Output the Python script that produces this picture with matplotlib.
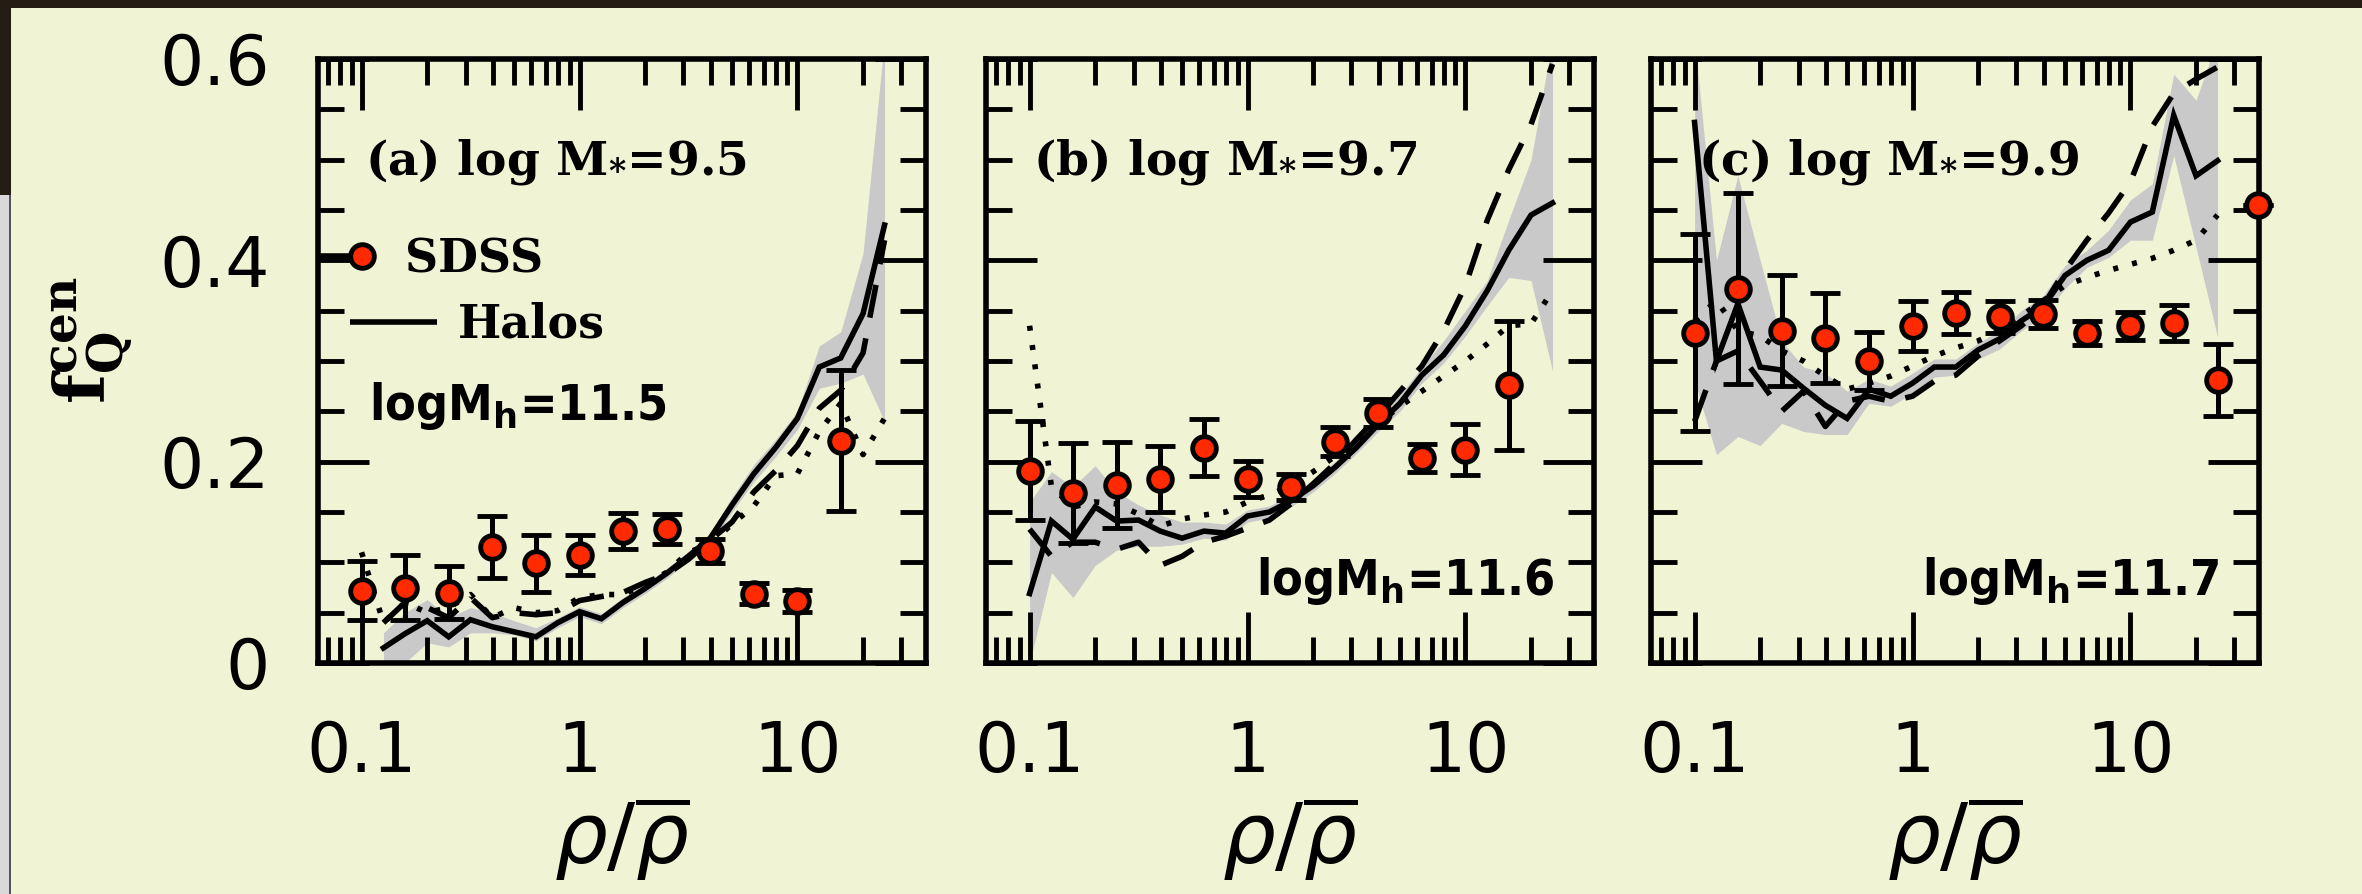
import numpy as np
import matplotlib
matplotlib.use("Agg")
import matplotlib.pyplot as plt
from matplotlib.lines import Line2D
from matplotlib.legend_handler import HandlerLine2D
from matplotlib.patches import Rectangle
from matplotlib.ticker import FixedLocator, FixedFormatter, LogLocator, NullFormatter, MultipleLocator
from matplotlib.font_manager import FontProperties

nan = np.nan

# ---------------- data ----------------
# model (halo) curves: rho/rhobar grid
model_x = [0.100, 0.126, 0.158, 0.200, 0.251, 0.316, 0.398, 0.501, 0.631, 0.794,
           1.00, 1.26, 1.58, 2.00, 2.51, 3.16, 3.98, 5.01, 6.31, 7.94,
           10.0, 12.6, 15.8, 20.0, 25.1]

# panel (a) log M* = 9.5
solid_a = [nan, 0.015, 0.029, 0.042, 0.026, 0.043, 0.036, 0.031, 0.026, 0.040,
           0.051, 0.044, 0.060, 0.074, 0.089, 0.106, 0.124, 0.157, 0.188, 0.214,
           0.243, 0.294, 0.303, 0.347, 0.435]
dashed_a = [nan, 0.040, 0.060, 0.055, 0.045, 0.065, 0.045, 0.050, 0.048, 0.050,
            0.062, 0.066, 0.070, 0.080, 0.088, 0.103, 0.122, 0.140, 0.170, 0.191,
            0.216, 0.253, 0.271, 0.308, 0.420]
dotted_a = [0.110, 0.040, 0.060, 0.050, 0.055, 0.068, 0.045, 0.055, 0.050, 0.052,
            0.065, 0.068, 0.068, 0.078, 0.090, 0.110, 0.118, 0.138, 0.156, 0.186,
            0.188, 0.230, 0.258, 0.207, 0.243]
band_a_lo = [nan, 0.000, 0.000, 0.020, 0.016, 0.030, 0.030, 0.028, 0.022, 0.035,
             0.046, 0.039, 0.055, 0.069, 0.084, 0.101, 0.119, 0.150, 0.180, 0.205,
             0.232, 0.273, 0.278, 0.287, 0.240]
band_a_hi = [nan, 0.030, 0.050, 0.063, 0.045, 0.055, 0.050, 0.042, 0.035, 0.045,
             0.056, 0.049, 0.065, 0.079, 0.094, 0.111, 0.129, 0.165, 0.197, 0.222,
             0.250, 0.315, 0.329, 0.407, 0.620]

# panel (b) log M* = 9.7
solid_b = [0.069, 0.141, 0.123, 0.155, 0.141, 0.142, 0.131, 0.124, 0.131, 0.129,
           0.146, 0.150, 0.161, 0.176, 0.194, 0.214, 0.237, 0.258, 0.286, 0.306,
           0.335, 0.370, 0.410, 0.445, 0.457]
dashed_b = [0.133, 0.106, 0.120, 0.120, 0.113, 0.120, 0.097, 0.106, 0.120, 0.126,
            0.134, 0.142, 0.158, 0.178, 0.198, 0.222, 0.245, 0.270, 0.295, 0.330,
            0.375, 0.440, 0.490, 0.535, 0.595]
dotted_b = [0.335, 0.175, 0.155, 0.160, 0.158, 0.148, 0.136, 0.143, 0.147, 0.150,
            0.160, 0.167, 0.176, 0.190, 0.205, 0.220, 0.238, 0.255, 0.270, 0.285,
            0.300, 0.317, 0.335, 0.337, 0.370]
band_b_lo = [0.000, 0.090, 0.065, 0.097, 0.112, 0.116, 0.116, 0.118, 0.124, 0.122,
             0.140, 0.144, 0.155, 0.170, 0.188, 0.208, 0.230, 0.250, 0.278, 0.298,
             0.325, 0.355, 0.383, 0.380, 0.290]
band_b_hi = [0.160, 0.190, 0.175, 0.196, 0.170, 0.157, 0.147, 0.140, 0.140, 0.138,
             0.152, 0.156, 0.167, 0.182, 0.200, 0.220, 0.244, 0.266, 0.294, 0.320,
             0.350, 0.380, 0.440, 0.500, 0.620]

# panel (c) log M* = 9.9
solid_c = [0.537, 0.300, 0.357, 0.294, 0.291, 0.273, 0.256, 0.243, 0.272, 0.265,
           0.278, 0.294, 0.294, 0.311, 0.322, 0.340, 0.354, 0.385, 0.400, 0.410,
           0.438, 0.448, 0.544, 0.484, 0.499]
dashed_c = [0.240, 0.300, 0.310, 0.280, 0.250, 0.270, 0.235, 0.260, 0.265, 0.260,
            0.265, 0.280, 0.286, 0.305, 0.320, 0.335, 0.355, 0.390, 0.420, 0.447,
            0.478, 0.533, 0.566, 0.580, 0.592]
dotted_c = [0.340, 0.360, 0.330, 0.325, 0.310, 0.300, 0.285, 0.272, 0.278, 0.285,
            0.295, 0.305, 0.313, 0.320, 0.330, 0.345, 0.360, 0.375, 0.383, 0.390,
            0.396, 0.402, 0.410, 0.420, 0.445]
band_c_lo = [0.280, 0.207, 0.225, 0.216, 0.238, 0.230, 0.227, 0.227, 0.258, 0.255,
             0.268, 0.284, 0.286, 0.302, 0.312, 0.330, 0.345, 0.372, 0.393, 0.403,
             0.420, 0.420, 0.504, 0.413, 0.324]
band_c_hi = [0.620, 0.400, 0.484, 0.400, 0.320, 0.294, 0.288, 0.270, 0.282, 0.275,
             0.288, 0.302, 0.302, 0.318, 0.330, 0.350, 0.365, 0.395, 0.410, 0.430,
             0.460, 0.476, 0.585, 0.559, 0.620]

# SDSS measurements
sdss_x = [0.100, 0.158, 0.251, 0.398, 0.631, 1.00, 1.58, 2.51, 3.98, 6.31,
          10.0, 15.8, 25.1, 38.5]
sdss_a = [0.072, 0.075, 0.070, 0.115, 0.099, 0.107, 0.131, 0.133, 0.111, 0.069,
          0.062, 0.221, nan, nan]
err_a = [0.029, 0.032, 0.026, 0.031, 0.028, 0.020, 0.018, 0.015, 0.012, 0.010,
         0.011, 0.070, nan, nan]
sdss_b = [0.191, 0.169, 0.177, 0.183, 0.214, 0.183, 0.175, 0.220, 0.248, 0.204,
          0.212, 0.276, nan, nan]
err_b = [0.049, 0.050, 0.043, 0.033, 0.028, 0.018, 0.013, 0.014, 0.014, 0.014,
         0.025, 0.064, nan, nan]
sdss_c = [0.328, 0.372, 0.330, 0.323, 0.300, 0.335, 0.348, 0.344, 0.347, 0.328,
          0.335, 0.338, 0.281, 0.455]
err_c = [0.098, 0.095, 0.055, 0.045, 0.029, 0.025, 0.021, 0.016, 0.014, 0.012,
         0.014, 0.018, 0.036, 0.0]

panel_titles = ["(a) log M$_{\\mathbf{*}}$=9.5", "(b) log M$_{\\mathbf{*}}$=9.7",
                "(c) log M$_{\\mathbf{*}}$=9.9"]
halo_labels = ["logM$_{\\mathbf{h}}$=11.5", "logM$_{\\mathbf{h}}$=11.6",
               "logM$_{\\mathbf{h}}$=11.7"]
x_ticks = [0.1, 1, 10]
x_ticklabels = ["0.1", "1", "10"]
y_ticks = [0.0, 0.2, 0.4, 0.6]
y_ticklabels = ["0", "0.2", "0.4", "0.6"]

# ---------------- style ----------------
BG = "#f1f3d5"
RED = "#ff2a00"
GREY = "#c9c9c9"
LW = 4.0
MS = 17
MEW = 3.5

fig = plt.figure(figsize=(23.62, 8.94), dpi=100)
fig.patch.set_facecolor(BG)

# frame strips around the picture
fig.add_artist(Rectangle((0, 0), 9 / 2362, 1, transform=fig.transFigure,
                         facecolor="#d9d9d9", edgecolor="none", zorder=-5))
fig.add_artist(Rectangle((9 / 2362, 0), 1.5 / 2362, 1 - 195 / 894, transform=fig.transFigure,
                         facecolor="#555555", edgecolor="none", zorder=-5))
fig.add_artist(Rectangle((0, 1 - 195 / 894), 11 / 2362, 195 / 894, transform=fig.transFigure,
                         facecolor="#231d14", edgecolor="none", zorder=-5))
fig.add_artist(Rectangle((0, 1 - 8 / 894), 1, 8 / 894, transform=fig.transFigure,
                         facecolor="#231d14", edgecolor="none", zorder=-5))

lefts = [318 / 2362, 986 / 2362, 1651 / 2362]
bottom = 1 - 663 / 894
width = 608 / 2362
height = 604 / 894

panels = [
    (solid_a, dashed_a, dotted_a, band_a_lo, band_a_hi, sdss_a, err_a),
    (solid_b, dashed_b, dotted_b, band_b_lo, band_b_hi, sdss_b, err_b),
    (solid_c, dashed_c, dotted_c, band_c_lo, band_c_hi, sdss_c, err_c),
]

legend_font = dict(family="DejaVu Serif", weight="bold", size=33)
mx = np.array(model_x)
sx = np.array(sdss_x)


class SDSSHandler(HandlerLine2D):
    def create_artists(self, legend, orig_handle, xdescent, ydescent, width, height,
                       fontsize, trans):
        y = height / 2.0 - ydescent
        x1 = width - xdescent
        line = Line2D([-xdescent, x1], [y, y], color="k", lw=LW, solid_capstyle="butt")
        dot = Line2D([x1], [y], ls="none", marker="o", ms=MS, mfc=RED, mec="k", mew=MEW)
        line.set_transform(trans)
        dot.set_transform(trans)
        return [line, dot]


for i, (sol, das, dot, lo, hi, sy, se) in enumerate(panels):
    ax = fig.add_axes([lefts[i], bottom, width, height])
    ax.set_facecolor(BG)
    ax.set_xscale("log")
    ax.set_xlim(0.0631, 38.9)
    ax.set_ylim(0, 0.6)

    ax.fill_between(mx, np.array(lo), np.array(hi), color=GREY, lw=0, zorder=1)
    ax.plot(mx, sol, color="k", lw=LW, zorder=2, solid_joinstyle="miter")
    ax.plot(mx, das, color="k", lw=LW, dashes=(6, 3.8), zorder=2)
    ax.plot(mx, dot, color="k", lw=LW, dashes=(0.9, 2.6), zorder=2)

    yv = np.array(sy)
    ev = np.array(se)
    ok = np.isfinite(yv)
    ax.errorbar(sx[ok], yv[ok], yerr=np.nan_to_num(ev[ok]), fmt="o", ms=MS, mfc=RED,
                mec="k", mew=MEW, ecolor="k", elinewidth=3.6, capsize=11, capthick=3.6,
                zorder=5, clip_on=False)

    # axes styling
    for sp in ax.spines.values():
        sp.set_linewidth(4)
    ax.xaxis.set_major_locator(FixedLocator(x_ticks))
    ax.xaxis.set_major_formatter(FixedFormatter(x_ticklabels))
    ax.xaxis.set_minor_locator(LogLocator(base=10, subs=(2, 3, 4, 5, 6, 7, 8, 9)))
    ax.xaxis.set_minor_formatter(NullFormatter())
    ax.yaxis.set_major_locator(FixedLocator(y_ticks))
    ax.yaxis.set_major_formatter(FixedFormatter(y_ticklabels))
    ax.yaxis.set_minor_locator(MultipleLocator(0.05))
    ax.tick_params(which="both", direction="in", top=True, right=True, width=3.5, color="k")
    ax.tick_params(which="major", length=37)
    ax.tick_params(which="minor", length=18.5)
    ax.tick_params(axis="x", which="major", pad=40, labelsize=50)
    ax.tick_params(axis="y", which="major", pad=35, labelsize=50, labelleft=(i == 0))

    ax.text(0.077, 0.809, panel_titles[i], transform=ax.transAxes, ha="left", va="baseline",
            fontfamily="DejaVu Serif", fontweight="bold", fontsize=34,
            math_fontfamily="dejavuserif", zorder=4)

    if i == 0:
        ax.text(0.084, 0.403, halo_labels[i], transform=ax.transAxes, ha="left",
                va="baseline", fontfamily="DejaVu Sans", fontweight="bold",
                fontstretch="condensed", fontsize=36, math_fontfamily="dejavusans")
    else:
        ax.text(0.935, 0.113, halo_labels[i], transform=ax.transAxes, ha="right",
                va="baseline", fontfamily="DejaVu Sans", fontweight="bold",
                fontstretch="condensed", fontsize=36, math_fontfamily="dejavusans")

    ax.text(0.5, -0.29, r"$\rho/\overline{\rho}$", transform=ax.transAxes, ha="center",
            va="center", fontsize=60)

    if i == 0:
        ax.text(-0.37, 0.535, r"$\mathbf{f}_{\mathbf{Q}}^{\mathbf{cen}}$", transform=ax.transAxes,
                rotation=90, ha="center", va="center", fontsize=50,
                math_fontfamily="dejavuserif")
        proxy_s = Line2D([], [], color="k")
        leg1 = ax.legend(handles=[proxy_s], labels=["SDSS"],
                         handler_map={proxy_s: SDSSHandler()},
                         loc="center left", bbox_to_anchor=(0.0, 0.668), frameon=False,
                         borderaxespad=0, borderpad=0, handlelength=0.95, handletextpad=0.95,
                         prop=FontProperties(**legend_font))
        ax.add_artist(leg1)
        proxy_h = Line2D([], [], color="k", lw=LW, solid_capstyle="butt")
        ax.legend(handles=[proxy_h], labels=["Halos"], loc="center left",
                  bbox_to_anchor=(0.0526, 0.56), frameon=False, borderaxespad=0,
                  borderpad=0, handlelength=1.9, handletextpad=0.45,
                  prop=FontProperties(**legend_font))

fig.savefig("out.png", dpi=100, facecolor=fig.get_facecolor())
